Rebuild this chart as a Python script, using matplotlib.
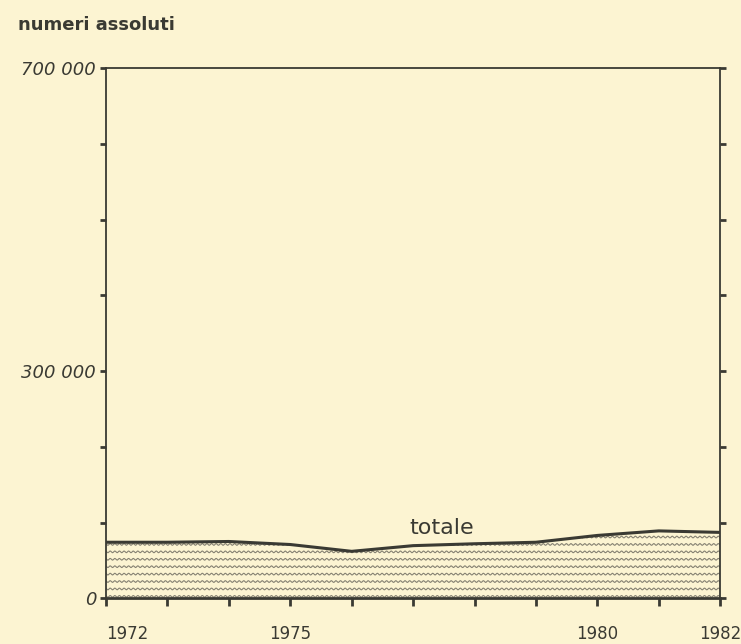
import numpy as np
import matplotlib
matplotlib.use("Agg")
import matplotlib.pyplot as plt
from matplotlib.patches import PathPatch
from matplotlib.path import Path

years = [1972, 1973, 1974, 1975, 1976, 1977, 1978, 1979, 1980, 1981, 1982]
totale = [74000, 74000, 75000, 71000, 62000, 69500, 72000, 74000, 83000, 89000, 87000]
y_ticks = [0, 100000, 200000, 300000, 400000, 500000, 600000, 700000]
y_labels = {0: "0", 300000: "300 000", 700000: "700 000"}
x_labels = {1972: "1972", 1975: "1975", 1980: "1980", 1982: "1982"}

bg = "#fcf4d2"
ink = "#3a3a33"
plt.rcParams['font.family'] = ['DejaVu Sans']

fig = plt.figure(figsize=(7.41, 6.44), dpi=100, facecolor=bg)
ax = fig.add_axes([0.143, 0.071, 0.829, 0.823])
ax.set_facecolor(bg)

ax.set_xlim(1972, 1982)
ax.set_ylim(0, 700000)

# filled area with wavy hatching
ax.fill_between(years, 0, totale, facecolor=bg, edgecolor='none', zorder=1)
xs = np.linspace(1972, 1982, 3000)
clip_verts = [(years[0], 0)] + list(zip(years, totale)) + [(years[-1], 0)]
clip_path = Path(clip_verts + [clip_verts[0]], closed=True)
clip_patch = PathPatch(clip_path, transform=ax.transData, facecolor='none', edgecolor='none')
ax.add_patch(clip_patch)
for base in np.arange(2500, 100000, 9800):
    wave = base + 1100 * np.sin(xs * 2 * np.pi / 0.075)
    ln, = ax.plot(xs, wave, color="#858172", lw=0.8, zorder=2)
    ln.set_clip_path(clip_patch)

ax.plot(years, totale, color=ink, lw=2.2, zorder=3)
ax.text(1977.47, 92500, "totale", fontsize=16, color=ink, ha='center', va='center')

ax.set_yticks(y_ticks)
ax.set_yticklabels([y_labels.get(v, "") for v in y_ticks], fontstyle='italic', fontsize=13, color=ink)
ax.set_xticks(years)
xt = ax.set_xticklabels([x_labels.get(v, "") for v in years], fontsize=12, color=ink)
xt[0].set_horizontalalignment('left')

ax.tick_params(axis='y', which='both', direction='out', length=4, width=2, color=ink,
               right=True, left=True, pad=3)
ax.tick_params(axis='x', direction='out', length=6, width=2, color=ink, pad=13)
for s in ['left', 'right', 'top']:
    ax.spines[s].set_color(ink)
    ax.spines[s].set_linewidth(1.3)
ax.spines['bottom'].set_color(ink)
ax.spines['bottom'].set_linewidth(2.0)

fig.text(0.024, 0.961, "numeri assoluti", fontsize=13, fontweight='bold', color=ink, ha='left', va='center')

fig.savefig("out.png", dpi=100, facecolor=bg)
